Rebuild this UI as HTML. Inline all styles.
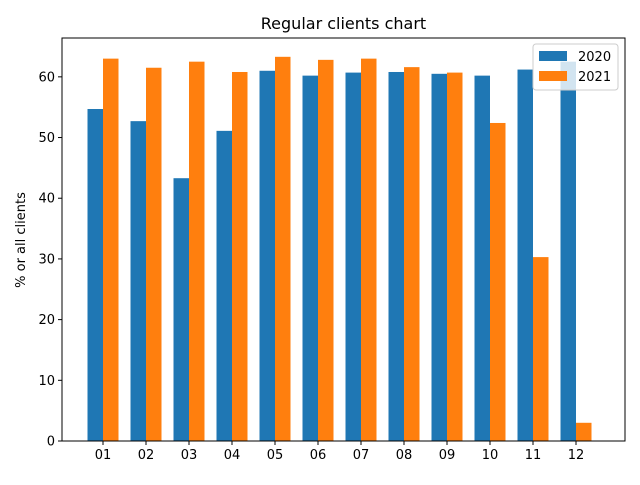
<!DOCTYPE html>
<html><head><meta charset="utf-8"><style>
body{margin:0;background:#fff;}
text{font-family:"DejaVu Sans","Liberation Sans",sans-serif;}
</style></head><body>
<svg id="chart" width="640" height="480" xmlns="http://www.w3.org/2000/svg">
<rect width="640" height="480" fill="#fff"/>
<text x="343.5" y="29" font-size="16" text-anchor="middle">Regular clients chart</text>
<text transform="translate(25,240) rotate(-90)" font-size="13" text-anchor="middle">% or all clients</text>
<g id="bars"></g>
<g id="axes"></g>
<g>
<rect x="533" y="44" width="85" height="46" fill="#fff" fill-opacity="0.8" stroke="#ccc" rx="3"/>
<rect x="539" y="51" width="28" height="10" fill="#1f77b4"/>
<text x="578" y="61" font-size="13">2020</text>
<rect x="539" y="71" width="28" height="10" fill="#ff7f0e"/>
<text x="578" y="81" font-size="13">2021</text>
</g>
</svg>
<script>
const categories=["01","02","03","04","05","06","07","08","09","10","11","12"];
const series2020=[54.7,52.7,43.3,51.1,61.0,60.2,60.7,60.8,60.5,60.2,61.2,62.5];
const series2021=[63.0,61.5,62.5,60.8,63.3,62.8,63.0,61.6,60.7,52.4,30.3,3.0];
const yTicks=[0,10,20,30,40,50,60];
const NS="http://www.w3.org/2000/svg";
const L=62,R=625,T=38,B=441,yMax=66.4;
const y=v=>B-v/yMax*(B-T);
const step=43,x0=103;
const x=i=>x0+i*step;
const bw=15.5;
const bars=document.getElementById('bars'),axes=document.getElementById('axes');
function mk(tag,attrs,parent){const e=document.createElementNS(NS,tag);for(const k in attrs)e.setAttribute(k,attrs[k]);parent.appendChild(e);return e;}
categories.forEach((c,i)=>{
  let r=mk('rect',{x:x(i)-bw,y:y(series2020[i]),width:bw,height:B-y(series2020[i]),fill:'#1f77b4'},bars);
  
  
  let r2=mk('rect',{x:x(i),y:y(series2021[i]),width:bw,height:B-y(series2021[i]),fill:'#ff7f0e'},bars);
  
  
  mk('line',{x1:x(i),x2:x(i),y1:B,y2:B+4,stroke:'#000'},axes);
  let t=mk('text',{x:x(i),y:B+18,'font-size':13,'text-anchor':'middle'},axes);
  t.textContent=c;
  
  
});
yTicks.forEach(v=>{
  mk('line',{x1:L-4,x2:L,y1:y(v),y2:y(v),stroke:'#000'},axes);
  let t=mk('text',{x:L-7,y:y(v)+4.5,'font-size':13,'text-anchor':'end'},axes);
  t.textContent=v;
  
  
});
let f=mk('rect',{x:L,y:T,width:R-L,height:B-T,fill:'none',stroke:'#000','stroke-width':1},axes);


</script>
</body></html>
